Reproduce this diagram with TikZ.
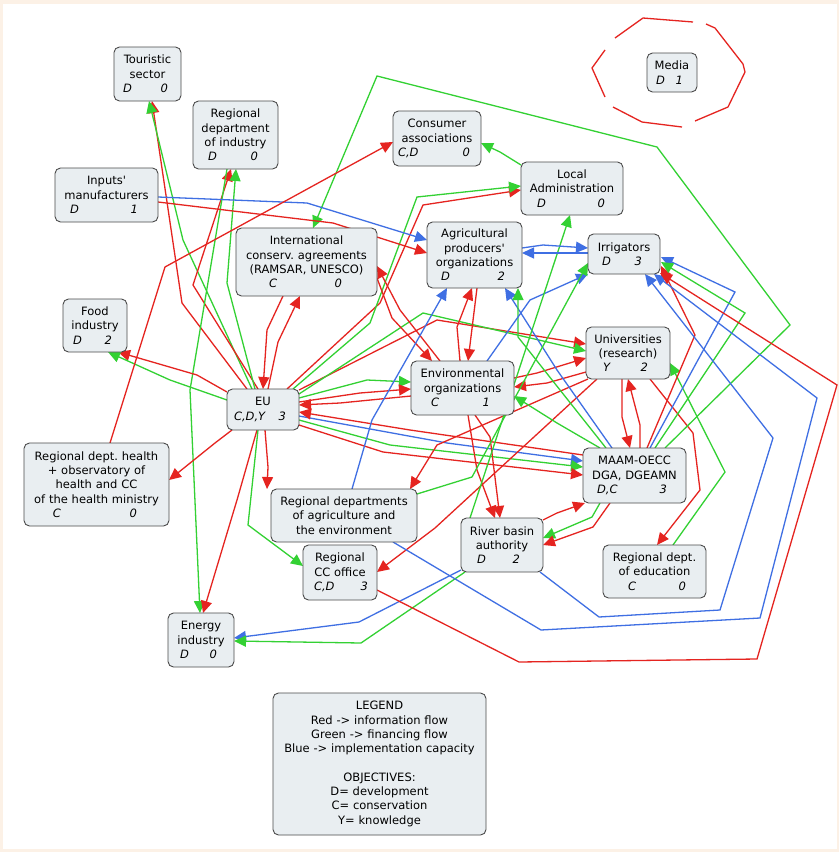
\documentclass[tikz,border=0pt]{standalone}
\usepackage{fontspec}
\newfontfamily\vfont{DejaVu Sans}
\usetikzlibrary{arrows.meta,calc}
\pgfdeclarelayer{back}
\pgfdeclarelayer{edges}
\pgfsetlayers{back,edges,main}
\definecolor{ired}{HTML}{E52420}
\definecolor{fgreen}{HTML}{33D133}
\definecolor{iblue}{HTML}{3F6FE3}
\definecolor{boxfill}{HTML}{E9EEF1}
\definecolor{boxline}{HTML}{4A4A4A}
\definecolor{bgbeige}{HTML}{FCF1E6}
\newcommand\obj[4]{\makebox[\linewidth]{\hspace*{#3}\textit{#1}\hfill\textit{#2}\hspace*{#4}}}
\frenchspacing
\begin{document}
\begin{tikzpicture}[x=1pt,y=-1pt,
  actor/.style={draw=boxline, fill=boxfill, line width=0.9pt, rounded corners=5.5pt,
    align=center, inner sep=3pt, font=\vfont\fontsize{11.5}{14.3}\selectfont},
  flow/.style={line width=1.3pt, -{Triangle[length=12pt,width=11pt]}},
  info/.style={flow, draw=ired},
  fin/.style={flow, draw=fgreen},
  impl/.style={flow, draw=iblue}]
\begin{pgfonlayer}{back}
\fill[bgbeige] (0,0) rectangle (839,852);
\fill[white] (2.5,3.5) rectangle (836.5,849);
\end{pgfonlayer}
\useasboundingbox (0,0) rectangle (839,852);

% ---------- actors ----------
\node[actor, minimum width=67pt, minimum height=54pt, text width=61pt] (tour) at (147.5,74) {Touristic\\sector\\\obj{D}{0}{6pt}{10pt}};
\node[actor, minimum width=85pt, minimum height=68pt, text width=79pt] (rdi) at (235.5,135) {Regional\\department\\of industry\\\obj{D}{0}{12pt}{17pt}};
\node[actor, minimum width=88pt, minimum height=55pt, text width=82pt] (cons) at (437,138.5) {Consumer\\associations\\\obj{C,D}{0}{2pt}{8pt}};
\node[actor, minimum width=103pt, minimum height=54pt, text width=97pt] (inp) at (106.5,195) {Inputs'\\manufacturers\\\obj{D}{1}{12pt}{17pt}};
\node[actor, minimum width=141pt, minimum height=68pt, text width=135pt] (intl) at (306.5,262) {International\\conserv. agreements\\(RAMSAR, UNESCO)\\\obj{C}{0}{30pt}{32pt}};
\node[actor, minimum width=50pt, minimum height=39pt, text width=44pt] (media) at (672,72.5) {Media\\\obj{D}{1}{6pt}{11pt}};
\node[actor, minimum width=102pt, minimum height=53pt, text width=96pt] (loc) at (572,188.5) {Local\\Administration\\\obj{D}{0}{13pt}{15pt}};
\node[actor, minimum width=95pt, minimum height=66pt, text width=89pt] (agri) at (474.5,255) {Agricultural\\producers'\\organizations\\\obj{D}{2}{11pt}{14pt}};
\node[actor, minimum width=72pt, minimum height=40pt, text width=66pt] (irr) at (624,254) {Irrigators\\\obj{D}{3}{11pt}{15pt}};
\node[actor, minimum width=64pt, minimum height=53pt, text width=58pt] (food) at (95,325.5) {Food\\industry\\\obj{D}{2}{7pt}{12pt}};
\node[actor, minimum width=72pt, minimum height=41pt, text width=66pt] (eu) at (263,409.5) {EU\\\obj{C,D,Y}{3}{4pt}{10pt}};
\node[actor, minimum width=145pt, minimum height=83pt, text width=139pt] (hlth) at (96.5,484.5) {Regional dept. health\\+ observatory of\\health and CC\\of the health ministry\\\obj{C}{0}{26pt}{29pt}};
\node[actor, minimum width=103pt, minimum height=54pt, text width=97pt] (envo) at (462.5,388) {Environmental\\organizations\\\obj{C}{1}{17pt}{21pt}};
\node[actor, minimum width=84pt, minimum height=52pt, text width=78pt] (univ) at (628,353) {Universities\\(research)\\\obj{Y}{2}{14pt}{19pt}};
\node[actor, minimum width=103pt, minimum height=55pt, text width=97pt] (maam) at (634.5,475.5) {MAAM-OECC\\DGA, DGEAMN\\\obj{D,C}{3}{11pt}{16pt}};
\node[actor, minimum width=146pt, minimum height=53pt, text width=140pt] (rda) at (344,515.5) {Regional departments\\of agriculture and\\the environment};
\node[actor, minimum width=74pt, minimum height=55pt, text width=68pt] (rcc) at (340,572.5) {Regional\\CC office\\\obj{C,D}{3}{8pt}{6pt}};
\node[actor, minimum width=82pt, minimum height=54pt, text width=76pt] (rbas) at (502,545) {River basin\\authority\\\obj{D}{2}{13pt}{20pt}};
\node[actor, minimum width=103pt, minimum height=53pt, text width=97pt] (redu) at (654.5,571.5) {Regional dept.\\of education\\\obj{C}{0}{22pt}{17pt}};
\node[actor, minimum width=66pt, minimum height=54pt, text width=60pt] (ener) at (201,640) {Energy\\industry\\\obj{D}{0}{9pt}{14pt}};
\node[actor, minimum width=213pt, minimum height=142pt, text width=207pt] (leg) at (379.5,764) {LEGEND\\Red -> information flow\\Green -> financing flow\\Blue -> implementation capacity\\\mbox{}\\OBJECTIVES:\\D= development\\C= conservation\\Y= knowledge};

% ---------- connectors ----------
\begin{pgfonlayer}{edges}
% media self loop
\draw[ired, line width=1.3pt] (643,18) -- (693,22) (706,24) -- (715,28) -- (743,64) -- (745,72) -- (728,107) -- (695,121)
  (682,127) -- (642,122) -- (613,107) (605,97) -- (592,68) -- (605,50) (615,38) -- (643,18);
% EU
\draw[info] ($(eu)+(-16,-20.5)$) -- (182,303) -- ($(tour)+(4.5,27)$);
\draw[fin] ($(eu)+(-11,-20.5)$) -- (183,240) -- ($(tour)+(1.5,27)$);
\draw[info] ($(eu)+(-5,-20.5)$) -- (193,285) -- ($(rdi)+(-4.5,34)$);
\draw[fin] ($(eu)+(-8,-20.5)$) -- (227,283) -- ($(rdi)+(0.5,34)$);
\draw[fin] ($(rdi)+(-8.5,34)$) -- (190,390) -- ($(ener)+(-1,-27)$);
\draw[info] ($(eu)+(-36,-17.5)$) -- (197,375) -- ($(food)+(23,26.5)$);
\draw[fin] ($(eu)+(-36,-9.5)$) -- (170,380) -- ($(food)+(13,26.5)$);
\draw[info] ($(intl)+(-23.5,34)$) -- (267,330) -- ($(eu)+(0,-20.5)$);
\draw[info] ($(eu)+(5,-20.5)$) -- (278,342) -- ($(intl)+(-6.5,34)$);
\draw[info] ($(eu)+(-31,20.5)$) -- (215,443) -- ($(hlth)+(72.5,-4.5)$);
\draw[info] ($(eu)+(-6,20.5)$) -- (237,500) -- ($(ener)+(2,-27)$);
\draw[fin] ($(eu)+(-5,20.5)$) -- (248,525) -- ($(rcc)+(-37,-6.5)$);
\draw[info] ($(eu)+(2,20.5)$) -- (268,467) -- ($(rda)+(-77,-26.5)$);
\draw[fin] ($(eu)+(36,-11.5)$) -- (367,380) -- ($(envo)+(-51.5,-6)$);
\draw[info] ($(eu)+(36,-7.5)$) -- (360,393) -- ($(envo)+(-51.5,1)$);
\draw[info] ($(envo)+(-51.5,8)$) -- (340,403) -- ($(eu)+(36,-4.5)$);
\draw[impl] ($(eu)+(36,6.5)$) -- (447,443) -- ($(maam)+(-51.5,-14.5)$);
\draw[fin] ($(eu)+(36,10.5)$) -- (390,445) -- ($(maam)+(-51.5,-8.5)$);
\draw[info] ($(eu)+(36,15.5)$) -- (383,452) -- ($(maam)+(-51.5,-0.5)$);
\draw[info] ($(maam)+(-51.5,-20.5)$) -- (410,430) -- ($(eu)+(36,2.5)$);
\draw[info] ($(eu)+(24,-20.5)$) -- (380,303) -- (423,205) -- ($(loc)+(-51,1.5)$);
\draw[fin] ($(eu)+(30,-20.5)$) -- (370,323) -- (417,197) -- ($(loc)+(-51,-2.5)$);
\draw[info] ($(eu)+(36,-19.5)$) -- (437,320) -- ($(univ)+(-42,-9)$);
\draw[fin] ($(eu)+(36,-15.5)$) -- (423,313) -- ($(univ)+(-42,-2)$);
% universities
\draw[info] ($(envo)+(51.5,-10)$) -- (537,373) -- ($(univ)+(-42,5)$);
\draw[info] ($(univ)+(-42,19)$) -- (547,383) -- ($(envo)+(51.5,-1)$);
\draw[info] ($(univ)+(-40,26)$) -- (437,445) -- ($(rda)+(66,-26.5)$);
\draw[info] ($(univ)+(-31,26)$) -- (435,528) -- ($(rcc)+(37,-0.5)$);
\draw[info] ($(univ)+(-6,26)$) -- (622,417) -- ($(maam)+(-4.5,-27.5)$);
\draw[info] ($(maam)+(5.5,-27.5)$) -- (640,425) -- ($(univ)+(0,26)$);
\draw[info] ($(univ)+(22,26)$) -- (693,433) -- (700,490) -- ($(redu)+(2.5,-26.5)$);
\draw[fin] ($(redu)+(18.5,-26.5)$) -- (725,472) -- ($(univ)+(42,10)$);
% MAAM
\draw[info] ($(maam)+(12.5,-27.5)$) -- (695,335) -- ($(irr)+(37,12)$);
\draw[impl] ($(maam)+(15.5,-27.5)$) -- (735,292) -- ($(irr)+(37,3)$);
\draw[fin] ($(maam)+(20.5,-27.5)$) -- (745,313) -- ($(irr)+(37,8)$);
\draw[fin] ($(maam)+(30.5,-27.5)$) -- (790,325) -- (657,147) -- (377,76) -- ($(intl)+(6.5,-34)$);
\draw[impl] ($(maam)+(-22.5,-27.5)$) -- (557,370) -- ($(agri)+(30.5,33)$);
\draw[fin] ($(maam)+(-28.5,-27.5)$) -- (518,337) -- ($(agri)+(43.5,33)$);
\draw[fin] ($(maam)+(-34.5,-27.5)$) -- (557,423) -- ($(envo)+(51.5,8)$);
\draw[fin] ($(maam)+(-34.5,27.5)$) -- (592,517) -- ($(rbas)+(41,-7)$);
\draw[info] ($(maam)+(-24.5,27.5)$) -- (593,527) -- ($(rbas)+(41,0)$);
\draw[info] ($(rbas)+(41,-25)$) -- (557,513) -- ($(maam)+(-49.5,27.5)$);
% environmental organizations, producers, irrigators
\draw[info] ($(envo)+(5.5,27)$) -- (477,470) -- ($(rbas)+(-7,-27)$);
\draw[info] ($(envo)+(12.5,27)$) -- (490,437) -- ($(rbas)+(-2,-27)$);
\draw[info] ($(agri)+(2.5,33)$) -- ($(envo)+(5.5,-27)$);
\draw[info] ($(envo)+(-2.5,-27)$) -- (457,327) -- ($(agri)+(-2.5,33)$);
\draw[info] ($(envo)+(-22.5,-27)$) -- (400,310) -- ($(intl)+(70.5,4)$);
\draw[info] ($(intl)+(70.5,16)$) -- (392,318) -- ($(envo)+(-30.5,-27)$);
\draw[impl] ($(rda)+(8,-26.5)$) -- (372,420) -- ($(agri)+(-27.5,33)$);
\draw[impl] ($(envo)+(24.5,-27)$) -- (530,300) -- ($(irr)+(-36,20)$);
\draw[fin] ($(rda)+(73,-21.5)$) -- (472,477) -- ($(irr)+(-36,9)$);
\draw[fin] ($(rbas)+(-32,-27)$) -- ($(loc)+(-2,26.5)$);
\draw[impl] ($(agri)+(47.5,-7)$) -- (543,245) -- ($(irr)+(-36,-6)$);
\draw[impl] ($(irr)+(-36,-1)$) -- (548,253) -- ($(agri)+(47.5,-2)$);
\draw[fin] ($(loc)+(-51,-23.5)$) -- (500,152) -- ($(cons)+(44,4.5)$);
\draw[info] ($(inp)+(51.5,7)$) -- (333,223) -- ($(agri)+(-47.5,-2)$);
\draw[impl] ($(inp)+(51.5,2)$) -- (307,203) -- ($(agri)+(-47.5,-15)$);
\draw[info] ($(hlth)+(13.5,-41.5)$) -- (165,267) -- ($(cons)+(-44,3.5)$);
% long connectors at the bottom and right
\draw[impl] ($(rbas)+(-41,25)$) -- (359,622) -- ($(ener)+(33,-2)$);
\draw[fin] ($(rbas)+(-37,27)$) -- (361,643) -- ($(ener)+(33,1)$);
\draw[impl] ($(rbas)+(38,27)$) -- (599,617) -- (720,610) -- (773,438) -- ($(irr)+(21,20)$);
\draw[impl] ($(rda)+(49,26.5)$) -- (541,630) -- (760,618) -- (817,398) -- ($(irr)+(30,20)$);
\draw[info] ($(rcc)+(37,17.5)$) -- (519,662) -- (757,659) -- (837,385) -- ($(irr)+(36,19)$);
\end{pgfonlayer}
\end{tikzpicture}
\end{document}
